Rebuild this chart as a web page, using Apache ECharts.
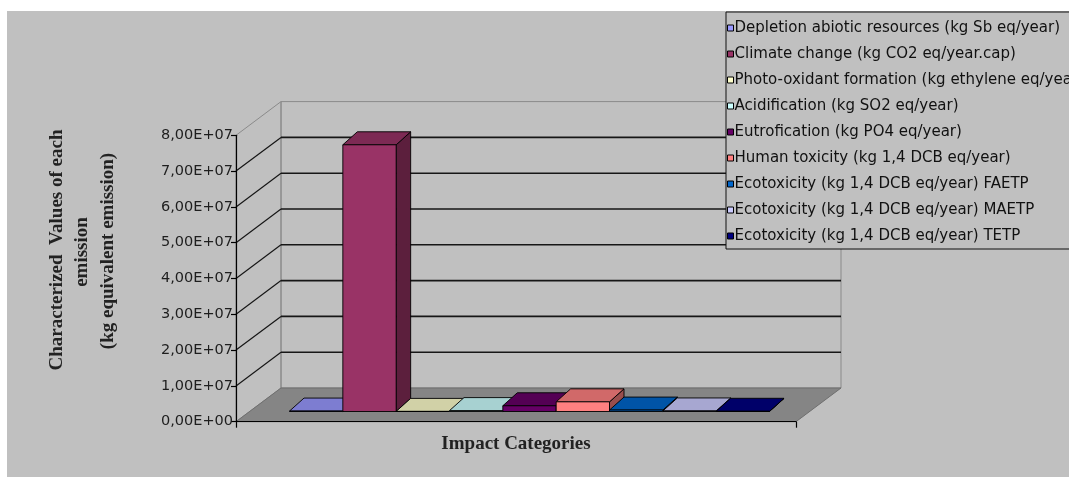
<!DOCTYPE html>
<html>
<head>
<meta charset="utf-8">
<script src="https://cdn.jsdelivr.net/npm/echarts@6/dist/echarts.min.js"></script>
<style>
  html, body { margin: 0; padding: 0; background: #ffffff; }
  #stage { position: relative; width: 1069px; height: 477px; overflow: hidden; }
  #panel { position: absolute; left: 7px; top: 11px; width: 1062px; height: 466px; background: #c0c0c0; }
  #chart { position: absolute; left: 0; top: 0; width: 1069px; height: 477px; }
</style>
</head>
<body>
<div id="stage">
  <div id="panel"></div>
  <div id="chart"></div>
</div>
<script>
// Impact categories of the emission inventory (one bar per category)
const seriesNames = [
  'Depletion abiotic resources (kg Sb eq/year)',
  'Climate change (kg CO2 eq/year.cap)',
  'Photo-oxidant formation (kg ethylene eq/year)',
  'Acidification (kg SO2 eq/year)',
  'Eutrofication (kg PO4 eq/year)',
  'Human toxicity (kg 1,4 DCB eq/year)',
  'Ecotoxicity (kg 1,4 DCB eq/year) FAETP',
  'Ecotoxicity (kg 1,4 DCB eq/year) MAETP',
  'Ecotoxicity (kg 1,4 DCB eq/year) TETP'
];
// Characterized values (kg equivalent emission)
const seriesValues = [1.2e5, 7.45e7, 3.0e4, 2.5e5, 1.6e6, 2.7e6, 4.0e5, 1.5e5, 6.0e4];
const seriesColors = ['#9999FF', '#993366', '#FFFFCC', '#CCFFFF', '#660066', '#FF8080', '#0066CC', '#CCCCFF', '#000080'];
const categories = [''];
const yTicks = [0, 1e7, 2e7, 3e7, 4e7, 5e7, 6e7, 7e7, 8e7];

const yMin = yTicks[0];
const yMax = yTicks[yTicks.length - 1];
const yStep = yTicks[1] - yTicks[0];

// oblique 3D projection: offset of the back wall and of the bar slab
const WALL_DX = 45, WALL_DY = -33.7;
const BAR_OFF_X = 13.5, BAR_OFF_Y = -10.2;
const BAR_DX = 14.5, BAR_DY = -13;
const GAP_WIDTH = 1.5; // gap between clusters, in bar widths

function shade(hex, k) {
  const n = parseInt(hex.slice(1), 16);
  const r = Math.round(((n >> 16) & 255) * k);
  const g = Math.round(((n >> 8) & 255) * k);
  const b = Math.round((n & 255) * k);
  return 'rgb(' + r + ',' + g + ',' + b + ')';
}

function sciLabel(v) {
  const parts = Number(v).toExponential(2).split('e');
  const mant = parts[0].replace('.', ',');
  let exp = parseInt(parts[1], 10);
  const sign = exp < 0 ? '-' : '+';
  exp = Math.abs(exp);
  return mant + 'E' + sign + (exp < 10 ? '0' + exp : '' + exp);
}

// walls, floor and gridlines of the 3D frame
function renderFrame(params, api) {
  const band = api.size([1, 0])[0];
  const c0 = api.coord([0, yMin]);
  const xl = c0[0] - band / 2, xr = c0[0] + band / 2;
  const y0 = c0[1];
  const yT = api.coord([0, yMax])[1];
  const dx = WALL_DX, dy = WALL_DY;
  const wallStroke = '#8a8a8a';
  const children = [];
  children.push({
    type: 'polygon',
    shape: { points: [[xl, y0], [xl, yT], [xl + dx, yT + dy], [xl + dx, y0 + dy]] },
    style: { fill: 'none', stroke: wallStroke, lineWidth: 1 }
  });
  children.push({
    type: 'rect',
    shape: { x: xl + dx, y: yT + dy, width: xr - xl, height: y0 - yT },
    style: { fill: 'none', stroke: wallStroke, lineWidth: 1 }
  });
  yTicks.forEach(function (v) {
    if (v <= yMin || v >= yMax) return;
    const yf = api.coord([0, v])[1];
    children.push({
      type: 'line',
      shape: { x1: xl + dx, y1: yf + dy, x2: xr + dx, y2: yf + dy },
      style: { stroke: '#161616', lineWidth: 1.6 }
    });
    children.push({
      type: 'line',
      shape: { x1: xl, y1: yf, x2: xl + dx, y2: yf + dy },
      style: { stroke: '#161616', lineWidth: 1.2 }
    });
  });
  children.push({
    type: 'polygon',
    shape: { points: [[xl, y0], [xr, y0], [xr + dx, y0 + dy], [xl + dx, y0 + dy]] },
    style: { fill: '#858585', stroke: '#6e6e6e', lineWidth: 1 }
  });
  return { type: 'group', children: children };
}

// one 3D bar, placed in its slot within the single category band
function makeBarRenderer(idx, color) {
  const top = shade(color, 0.82);
  const side = shade(color, 0.6);
  return function (params, api) {
    const band = api.size([1, 0])[0];
    const n = seriesNames.length;
    const w = band / (n + GAP_WIDTH);
    const base = api.coord([api.value(0), 0]);
    const peak = api.coord([api.value(0), api.value(1)]);
    const x0 = base[0] - (n / 2) * w + idx * w + BAR_OFF_X;
    const yb = base[1] + BAR_OFF_Y;
    const yt = peak[1] + BAR_OFF_Y;
    const x1 = x0 + w;
    const edge = { stroke: '#000', lineWidth: 0.9, lineJoin: 'round' };
    return {
      type: 'group',
      children: [
        {
          type: 'polygon',
          shape: { points: [[x1, yb], [x1, yt], [x1 + BAR_DX, yt + BAR_DY], [x1 + BAR_DX, yb + BAR_DY]] },
          style: Object.assign({ fill: side }, edge)
        },
        {
          type: 'polygon',
          shape: { points: [[x0, yt], [x1, yt], [x1 + BAR_DX, yt + BAR_DY], [x0 + BAR_DX, yt + BAR_DY]] },
          style: Object.assign({ fill: top }, edge)
        },
        {
          type: 'rect',
          shape: { x: x0, y: yt, width: w, height: Math.max(yb - yt, 0) },
          style: Object.assign({ fill: color }, edge)
        }
      ]
    };
  };
}

const chart = echarts.init(document.getElementById('chart'), null, { renderer: 'canvas' });

const series = [{
  name: 'frame',
  type: 'custom',
  coordinateSystem: 'cartesian2d',
  renderItem: renderFrame,
  data: [[0, 0]],
  z: 1,
  silent: true,
  animation: false
}];
seriesNames.forEach(function (name, i) {
  series.push({
    name: name,
    type: 'custom',
    coordinateSystem: 'cartesian2d',
    renderItem: makeBarRenderer(i, seriesColors[i]),
    itemStyle: { color: seriesColors[i] },
    encode: { x: 0, y: 1 },
    data: [[0, seriesValues[i]]],
    z: 2,
    animation: false
  });
});

chart.setOption({
  backgroundColor: 'transparent',
  animation: false,
  textStyle: { fontFamily: 'DejaVu Sans' },
  grid: { left: 236, right: 273, top: 135.3, bottom: 55.3, containLabel: false },
  graphic: [
    {
      type: 'text', x: 57, y: 250, rotation: Math.PI / 2,
      style: { text: 'Characterized  Values of each', font: 'bold 19px "Liberation Serif"', fill: '#222', textAlign: 'center', textVerticalAlign: 'middle' }
    },
    {
      type: 'text', x: 82.5, y: 252, rotation: Math.PI / 2,
      style: { text: 'emission', font: 'bold 19px "Liberation Serif"', fill: '#222', textAlign: 'center', textVerticalAlign: 'middle' }
    },
    {
      type: 'text', x: 108, y: 251, rotation: Math.PI / 2,
      style: { text: '(kg equivalent emission)', font: 'bold 19px "Liberation Serif"', fill: '#222', textAlign: 'center', textVerticalAlign: 'middle' }
    }
  ],
  legend: {
    data: seriesNames,
    orient: 'vertical',
    left: 726,
    top: 12,
    padding: [7, 4, 4, 1],
    itemGap: 8,
    itemWidth: 6,
    itemHeight: 6,
    icon: 'rect',
    selectedMode: false,
    backgroundColor: '#c0c0c0',
    borderColor: '#111',
    borderWidth: 1,
    itemStyle: { borderColor: '#000', borderWidth: 1 },
    textStyle: { fontFamily: 'DejaVu Sans', fontSize: 15, lineHeight: 18, color: '#111', padding: [0, 0, 0, -4] }
  },
  xAxis: {
    type: 'category',
    data: categories,
    boundaryGap: true,
    name: 'Impact Categories',
    nameLocation: 'middle',
    nameGap: 13,
    nameTextStyle: { fontFamily: 'Liberation Serif', fontWeight: 'bold', fontSize: 19, color: '#222' },
    axisLine: { show: true, lineStyle: { color: '#000', width: 1.2 } },
    axisTick: { show: true, length: 6, lineStyle: { color: '#000', width: 1.2 } },
    axisLabel: { show: false },
    splitLine: { show: false },
    z: 5
  },
  yAxis: {
    type: 'value',
    min: yMin,
    max: yMax,
    interval: yStep,
    axisLine: { show: true, lineStyle: { color: '#000', width: 1.2 } },
    axisTick: { show: true, length: 5, lineStyle: { color: '#000', width: 1.2 } },
    axisLabel: {
      formatter: sciLabel,
      fontFamily: 'DejaVu Sans',
      fontSize: 14.5,
      color: '#1e1e1e',
      margin: 3
    },
    splitLine: { show: false },
    z: 5
  },
  series: series
});
</script>
</body>
</html>
